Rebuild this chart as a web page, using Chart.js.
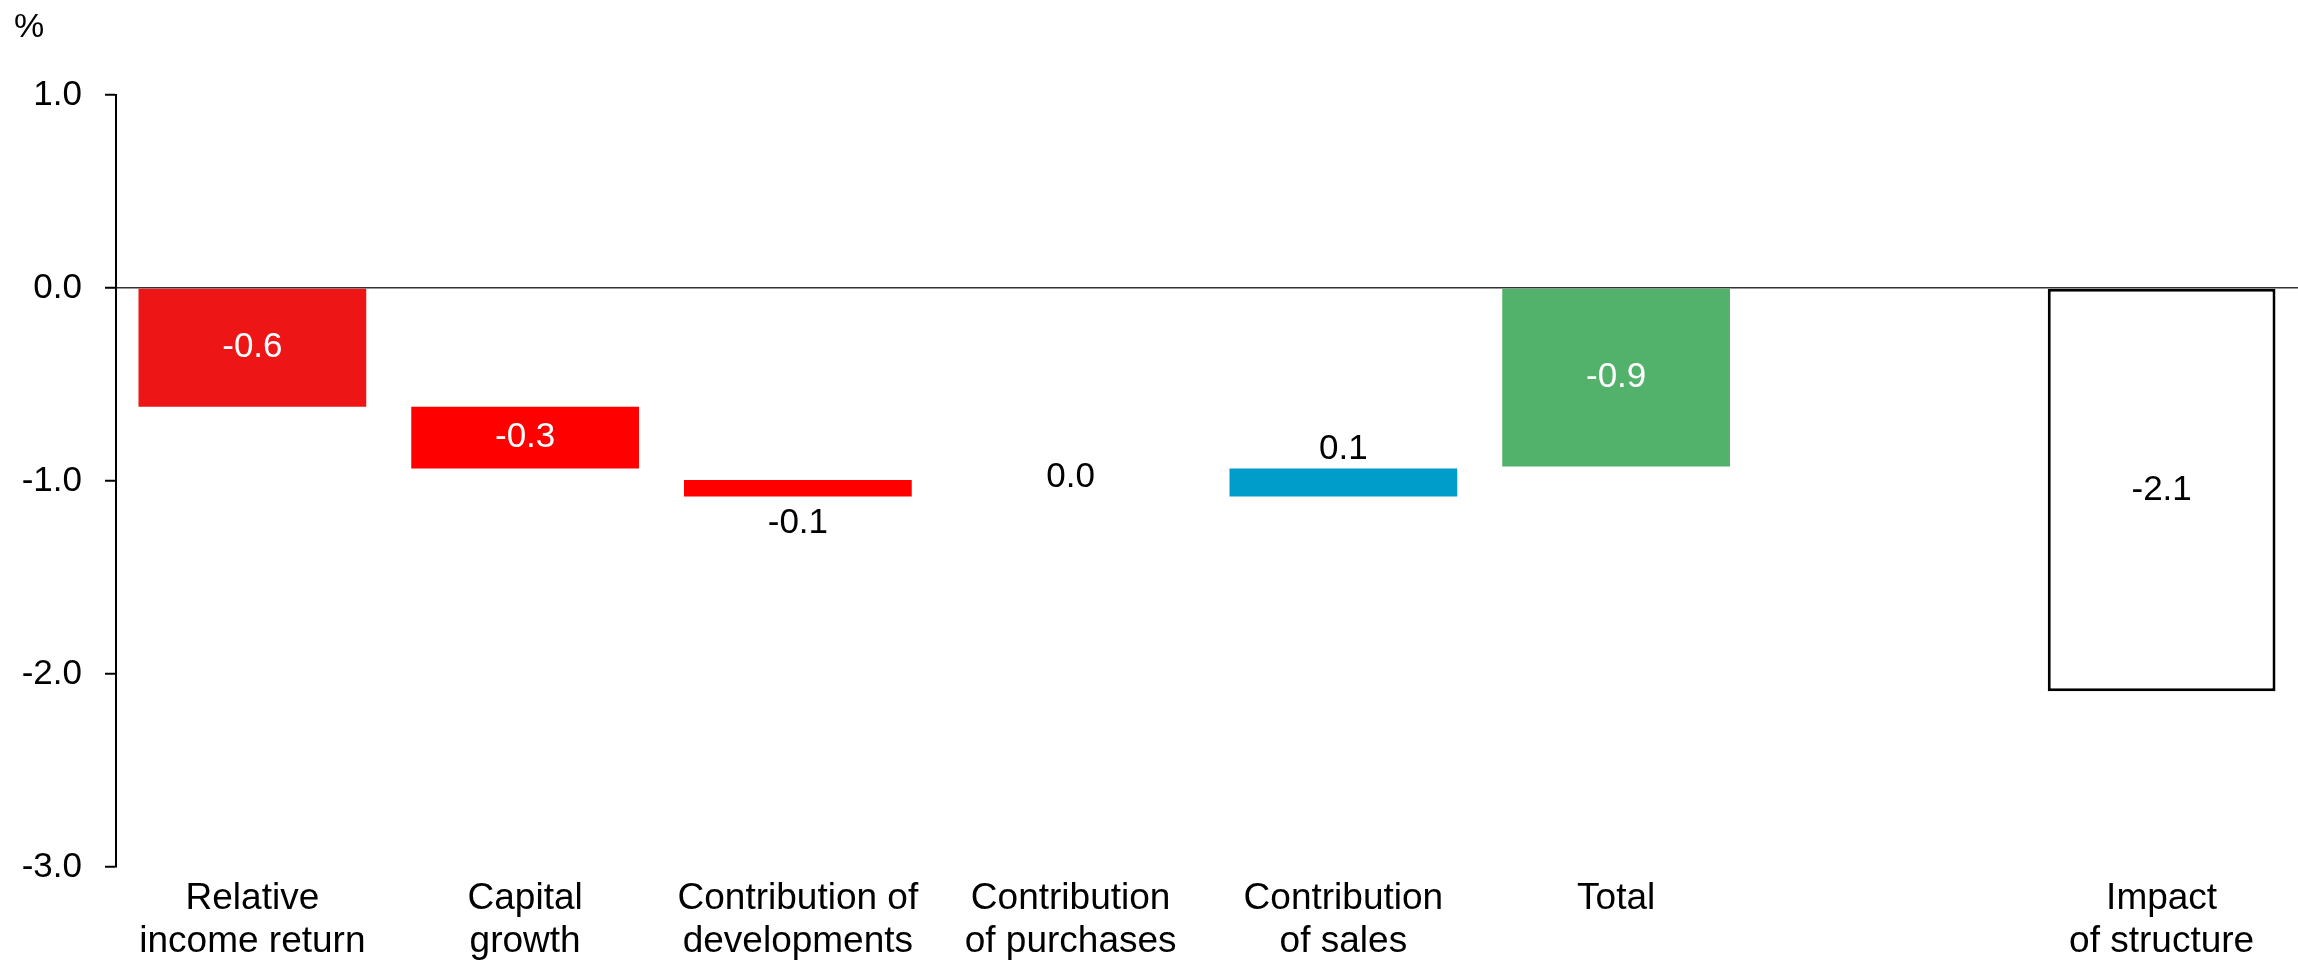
<!DOCTYPE html>
<html>
<head>
<meta charset="utf-8">
<script src="https://cdn.jsdelivr.net/npm/chart.js@4/dist/chart.umd.min.js"></script>
<style>
  html, body { margin: 0; padding: 0; background: #fff; }
</style>
</head>
<body>
<canvas id="myChart" width="2298" height="966"></canvas>
<script>
// waterfall data
const categories = [['Relative', 'income return'], ['Capital', 'growth'], ['Contribution of', 'developments'], ['Contribution', 'of purchases'], ['Contribution', 'of sales'], 'Total', '', ['Impact', 'of structure']]
const barStart = [0, -0.615, -0.995, -1.08, -1.08, 0, null, 0]
const barEnd = [-0.615, -0.935, -1.08, -1.08, -0.935, -0.925, null, -2.09]
const valueLabels = ['-0.6', '-0.3', '-0.1', '0.0', '0.1', '-0.9', '', '-2.1']
const yTicks = [1, 0, -1, -2, -3]
const unitLabel = '%'

const barColors = ['#ED1515', '#FF0000', '#FF0000', '#FF0000', '#009CCA', '#52B16A', '#FFFFFF', '#FFFFFF']
const barBorders = [0, 0, 0, 0, 0, 0, 0, 3]
const family = '"Liberation Sans", Arial, sans-serif'

const valueLabelPlugin = {
  id: 'valueLabels',
  afterDatasetsDraw(chart) {
    const ctx = chart.ctx
    const meta = chart.getDatasetMeta(0)
    ctx.save()
    ctx.font = '35px ' + family
    ctx.textAlign = 'center'
    ctx.textBaseline = 'middle'
    meta.data.forEach((bar, i) => {
      const text = valueLabels[i]
      if (!text) return
      const top = Math.min(bar.y, bar.base)
      const bottom = Math.max(bar.y, bar.base)
      let y
      let color = '#000'
      if (bottom - top > 45) {
        y = (top + bottom) / 2
        color = barColors[i] === '#FFFFFF' ? '#000' : '#fff'
      } else if (barEnd[i] >= barStart[i]) {
        y = top - 19
      } else {
        y = bottom + 27
      }
      ctx.fillStyle = color
      ctx.fillText(text, bar.x, y)
    })
    ctx.restore()
  }
}

const unitPlugin = {
  id: 'unitLabel',
  afterDraw(chart) {
    const ctx = chart.ctx
    ctx.save()
    ctx.font = '34px ' + family
    ctx.fillStyle = '#000'
    ctx.textAlign = 'left'
    ctx.textBaseline = 'middle'
    ctx.fillText(unitLabel, 14, 28)
    ctx.restore()
  }
}

const chart = document.getElementById('myChart')

new Chart(chart, {
  type: 'bar',
  data: {
    labels: categories,
    datasets: [{
      data: barStart.map((s, i) => s === null ? null : [s, barEnd[i]]),
      backgroundColor: barColors,
      borderColor: '#000',
      borderWidth: barBorders,
      borderSkipped: false,
      barPercentage: 0.835,
      categoryPercentage: 1
    }]
  },
  options: {
    responsive: false,
    animation: false,
    layout: { padding: { top: 95, left: 0, right: 0, bottom: 0 } },
    plugins: {
      legend: { display: false },
      tooltip: { enabled: false }
    },
    scales: {
      x: {
        grid: { display: false, drawTicks: false },
        border: { display: false },
        afterFit: (s) => { s.height = 99 },
        ticks: {
          color: '#000',
          font: { size: 37, family: family, lineHeight: 1.16 },
          padding: 10,
          maxRotation: 0,
          autoSkip: false
        }
      },
      y: {
        min: -3,
        max: 1,
        afterBuildTicks: (s) => { s.ticks = yTicks.map(v => ({ value: v })) },
        afterFit: (s) => { s.width = 116 },
        ticks: {
          color: '#000',
          font: { size: 35, family: family },
          padding: 23,
          callback: (v) => Number(v).toFixed(1)
        },
        grid: {
          color: (c) => c.tick && c.tick.value === 0 ? '#333' : 'rgba(0,0,0,0)',
          lineWidth: 1.5,
          tickColor: '#000',
          tickWidth: 2,
          tickLength: 11,
          drawTicks: true
        },
        border: { display: true, color: '#000', width: 2 }
      }
    }
  },
  plugins: [valueLabelPlugin, unitPlugin]
})
</script>
</body>
</html>
